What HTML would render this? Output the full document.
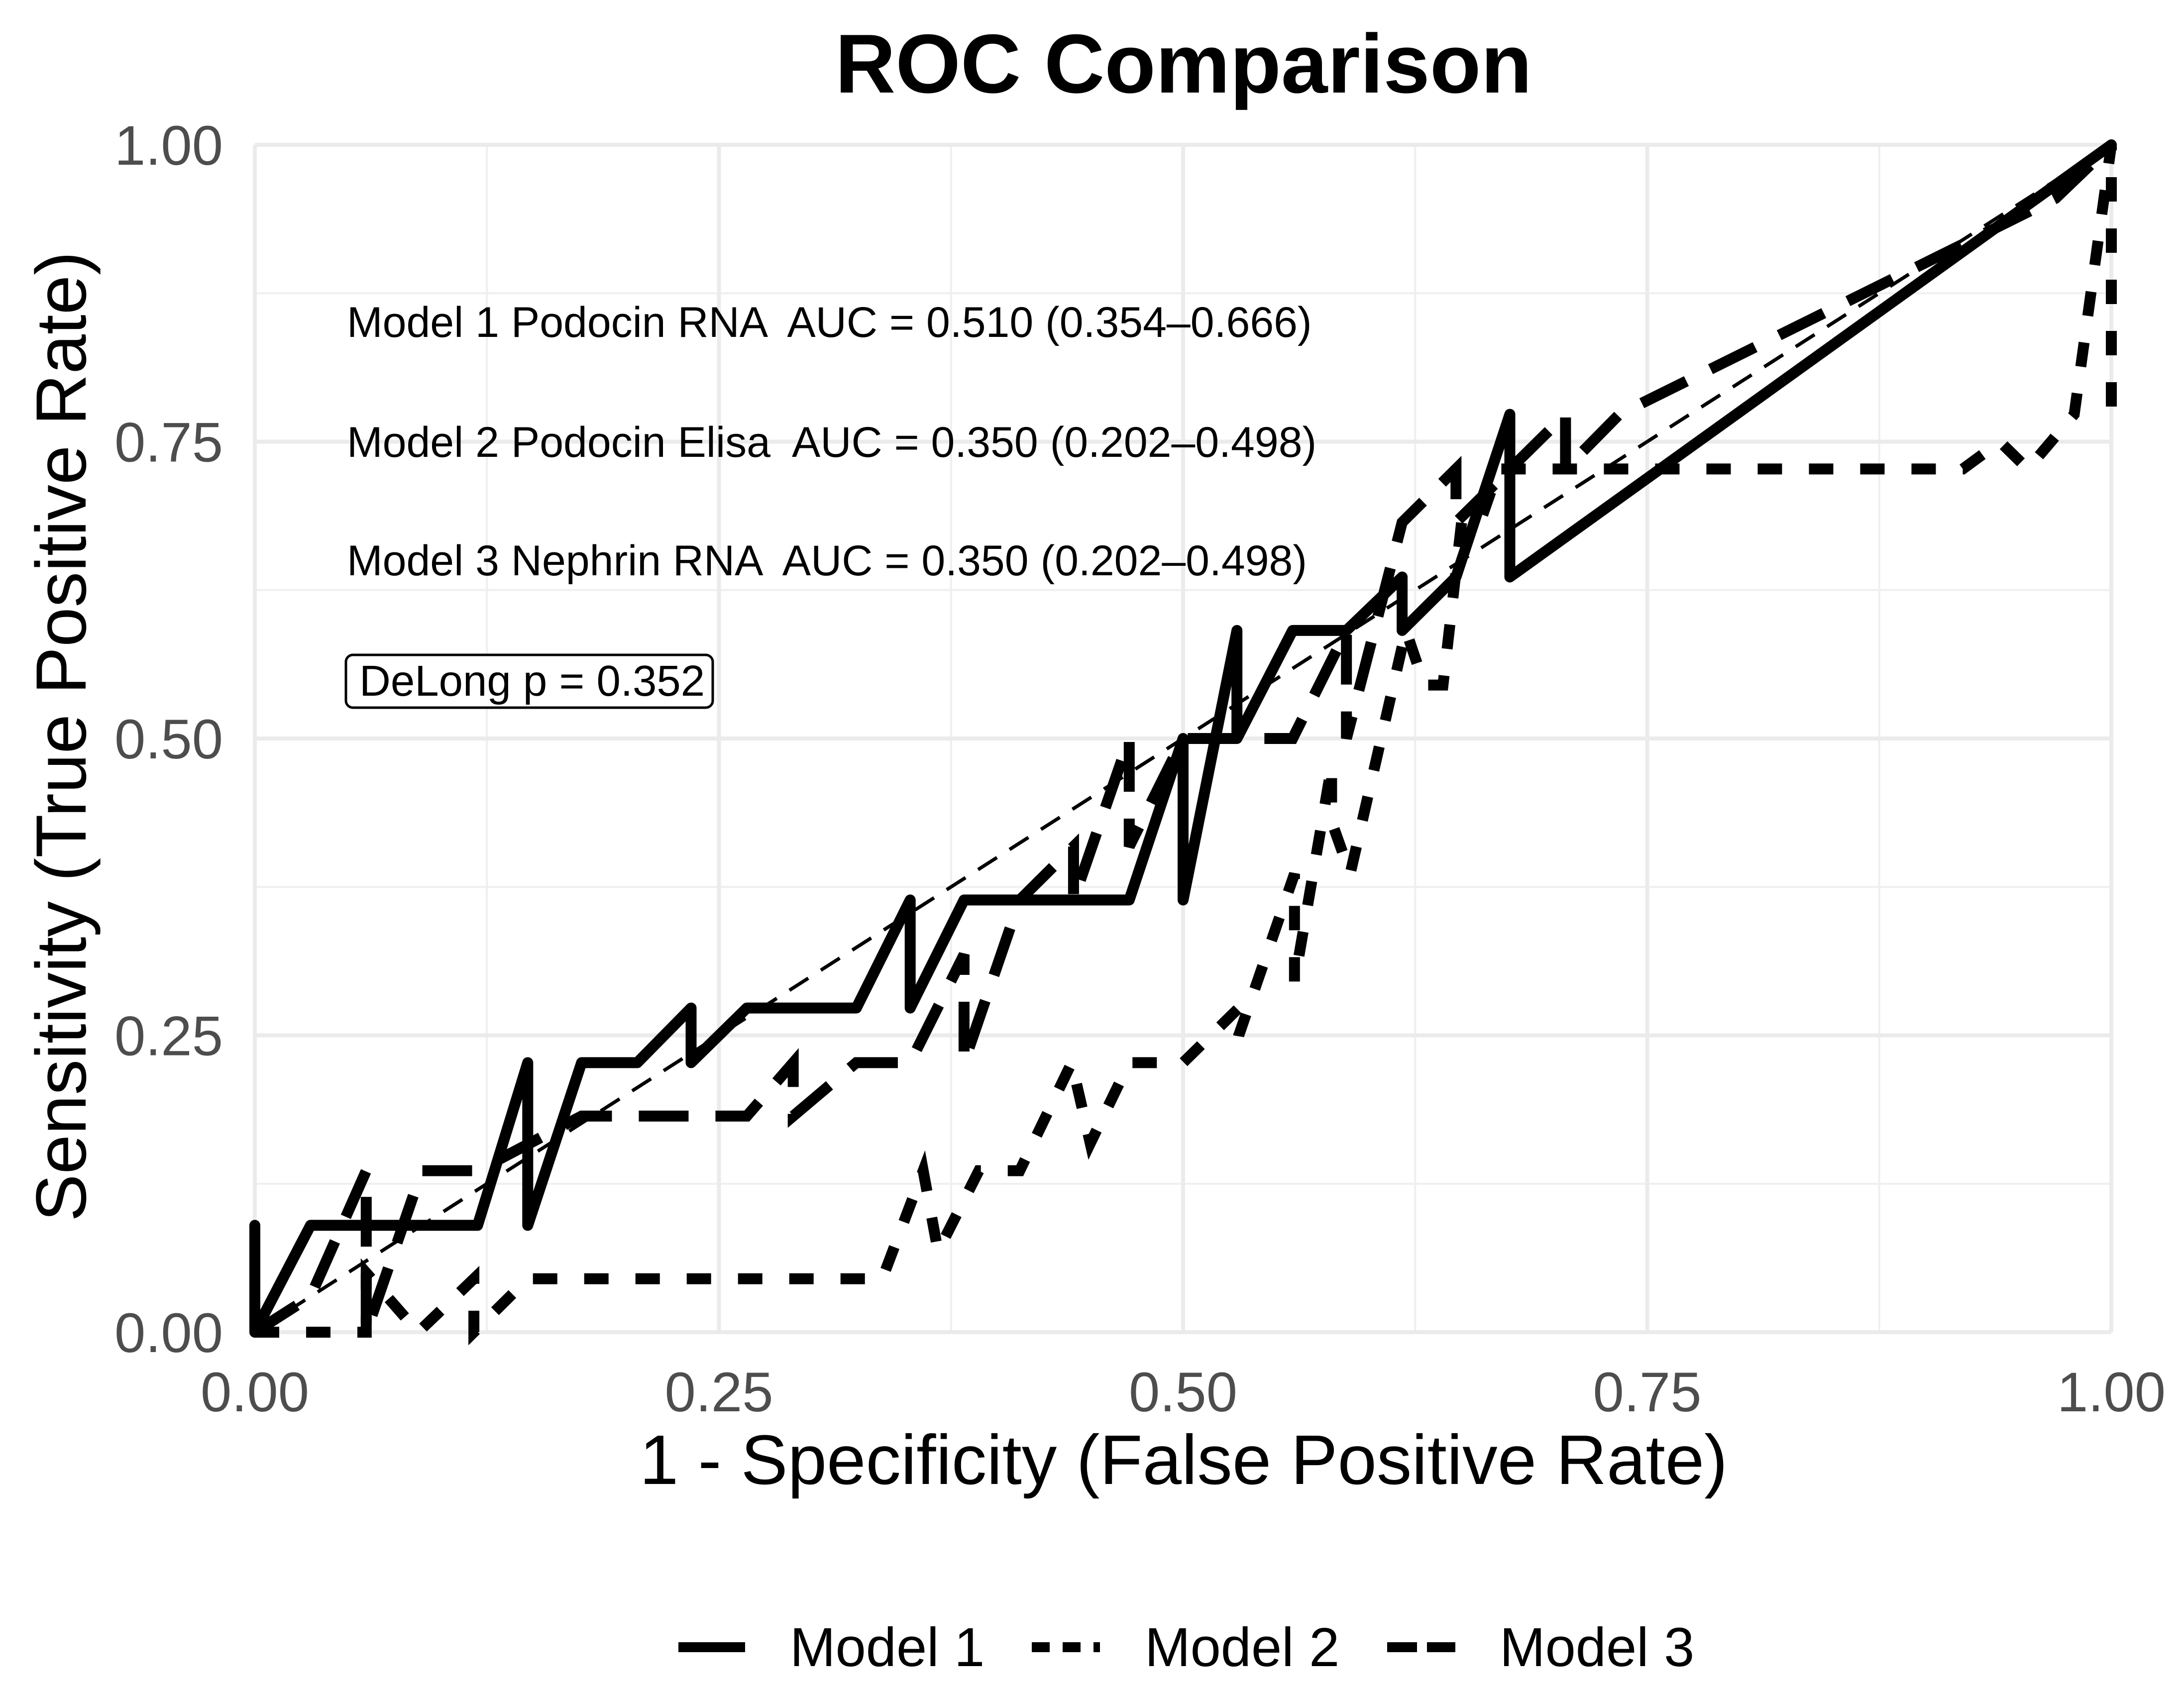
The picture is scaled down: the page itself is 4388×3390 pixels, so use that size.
<!DOCTYPE html>
<html><head><meta charset="utf-8"><style>
html,body{margin:0;padding:0;background:#fff;}
svg{display:block;font-family:"Liberation Sans",sans-serif;}
text{white-space:pre;}
</style></head><body>
<svg id="chart" width="4388" height="3390" viewBox="0 0 4388 3390" xmlns="http://www.w3.org/2000/svg" xml:space="preserve">
<rect width="4388" height="3390" fill="#fff"/>
<g id="grid"></g>
<g id="series"></g>
<g id="ticks"></g>
<text x="2378" y="186" font-size="168" font-weight="bold" text-anchor="middle">ROC Comparison</text>
<text x="2378" y="2982" font-size="141" text-anchor="middle">1 - Specificity (False Positive Rate)</text>
<text transform="translate(172,1480) rotate(-90)" font-size="143" text-anchor="middle">Sensitivity (True Positive Rate)</text>
<text x="697" y="677" font-size="86">Model 1 Podocin RNA  AUC = 0.510 (0.354–0.666)</text>
<text x="697" y="918" font-size="86">Model 2 Podocin Elisa  AUC = 0.350 (0.202–0.498)</text>
<text x="697" y="1156" font-size="86">Model 3 Nephrin RNA  AUC = 0.350 (0.202–0.498)</text>
<rect x="695" y="1316" width="737" height="106" rx="14" fill="#fff" stroke="#000" stroke-width="5"/>
<text x="722" y="1398" font-size="87">DeLong p = 0.352</text>
<g>
<line x1="1363" y1="3310" x2="1497" y2="3310" stroke="#000" stroke-width="20"/>
<text x="1587" y="3348" font-size="110">Model 1</text>
<line x1="2073" y1="3310" x2="2210" y2="3310" stroke="#000" stroke-width="20" stroke-dasharray="36,26"/>
<text x="2300" y="3348" font-size="110">Model 2</text>
<line x1="2787" y1="3310" x2="2924" y2="3310" stroke="#000" stroke-width="20" stroke-dasharray="60,20"/>
<text x="3013" y="3348" font-size="110">Model 3</text>
</g>
</svg>
<script>
const tickValues = [0, 0.25, 0.5, 0.75, 1];
const tickLabels = ["0.00", "0.25", "0.50", "0.75", "1.00"];
const minorTicks = [0.125, 0.375, 0.625, 0.875];
const model1Fpr = [0,0,0,0.03,0.12,0.147,0.147,0.176,0.206,0.235,0.235,0.265,0.324,0.353,0.353,0.382,0.471,0.5,0.5,0.529,0.529,0.559,0.588,0.618,0.618,0.647,0.676,0.676,1];
const model1Tpr = [0,0.09,0,0.09,0.09,0.227,0.09,0.227,0.227,0.273,0.227,0.273,0.273,0.364,0.273,0.364,0.364,0.5,0.364,0.591,0.5,0.591,0.591,0.636,0.591,0.636,0.773,0.636,1];
const model2Fpr = [0,0.04,0.06,0.06,0.088,0.118,0.118,0.147,0.338,0.36,0.368,0.39,0.412,0.44,0.45,0.471,0.5,0.53,0.53,0.56,0.56,0.58,0.58,0.59,0.62,0.63,0.64,0.65,0.66,0.67,0.92,0.94,0.955,0.98,1,1];
const model2Tpr = [0,0,0,0.05,0,0.045,0,0.045,0.045,0.136,0.068,0.136,0.136,0.227,0.159,0.227,0.227,0.273,0.25,0.386,0.295,0.477,0.43,0.386,0.591,0.545,0.545,0.682,0.682,0.727,0.727,0.75,0.727,0.773,1,0.773];
const model3Fpr = [0,0.03,0.06,0.06,0.09,0.12,0.176,0.265,0.29,0.29,0.324,0.353,0.382,0.382,0.412,0.441,0.441,0.471,0.471,0.5,0.559,0.588,0.588,0.618,0.647,0.647,0.706,0.706,0.735,0.97,1];
const model3Tpr = [0,0.03,0.136,0,0.136,0.136,0.182,0.182,0.227,0.182,0.227,0.227,0.318,0.227,0.364,0.409,0.364,0.5,0.409,0.5,0.5,0.591,0.5,0.682,0.727,0.682,0.773,0.727,0.773,0.955,1];
const refFpr = [0, 1];
const refTpr = [0, 1];

const X0=512, X1=4242, Y0=2677, Y1=291;
const sx = v => X0 + v*(X1-X0);
const sy = v => Y0 - v*(Y0-Y1);
const NS='http://www.w3.org/2000/svg';
const grid=document.getElementById('grid'), ser=document.getElementById('series'), ticks=document.getElementById('ticks');
function mk(tag, parent){const e=document.createElementNS(NS,tag);parent.appendChild(e);return e;}
minorTicks.forEach(v=>{
  let a=mk('line',grid);
  
  
  a.setAttribute('x1',sx(v));a.setAttribute('x2',sx(v));a.setAttribute('y1',Y1);a.setAttribute('y2',Y0);
  a.setAttribute('stroke','#efefef');a.setAttribute('stroke-width','4');
  let b=mk('line',grid);
  
  
  b.setAttribute('y1',sy(v));b.setAttribute('y2',sy(v));b.setAttribute('x1',X0);b.setAttribute('x2',X1);
  b.setAttribute('stroke','#efefef');b.setAttribute('stroke-width','4');
});
tickValues.forEach((v,i)=>{
  let a=mk('line',grid);
  
  
  a.setAttribute('x1',sx(v));a.setAttribute('x2',sx(v));a.setAttribute('y1',Y1);a.setAttribute('y2',Y0);
  a.setAttribute('stroke','#ebebeb');a.setAttribute('stroke-width','8');
  let b=mk('line',grid);
  
  
  b.setAttribute('y1',sy(v));b.setAttribute('y2',sy(v));b.setAttribute('x1',X0);b.setAttribute('x2',X1);
  b.setAttribute('stroke','#ebebeb');b.setAttribute('stroke-width','8');
  let t=mk('text',ticks);
  
  
  t.setAttribute('x',sx(v));t.setAttribute('y',2836);t.setAttribute('font-size','112');
  t.setAttribute('text-anchor','middle');t.setAttribute('fill','#4d4d4d');t.textContent=tickLabels[i];
  let u=mk('text',ticks);
  
  
  u.setAttribute('x',448);u.setAttribute('y',sy(v)+40);u.setAttribute('font-size','112');
  u.setAttribute('text-anchor','end');u.setAttribute('fill','#4d4d4d');u.textContent=tickLabels[i];
});
function path(xs, ys){return xs.map((x,i)=>(i?'L':'M')+sx(x).toFixed(1)+','+sy(ys[i]).toFixed(1)).join(' ');}
let r=mk('path',ser);


r.setAttribute('d',path(refFpr,refTpr));r.setAttribute('fill','none');r.setAttribute('stroke','#000');
r.setAttribute('stroke-width','7');r.setAttribute('stroke-dasharray','45,30');
let p3=mk('path',ser);


p3.setAttribute('d',path(model3Fpr,model3Tpr));p3.setAttribute('fill','none');p3.setAttribute('stroke','#000');
p3.setAttribute('stroke-width','22');p3.setAttribute('stroke-dasharray','100,54');
let p2=mk('path',ser);


p2.setAttribute('d',path(model2Fpr,model2Tpr));p2.setAttribute('fill','none');p2.setAttribute('stroke','#000');
p2.setAttribute('stroke-width','22');p2.setAttribute('stroke-dasharray','49,54');
let p1=mk('path',ser);


p1.setAttribute('d',path(model1Fpr,model1Tpr));p1.setAttribute('fill','none');p1.setAttribute('stroke','#000');
p1.setAttribute('stroke-width','22');p1.setAttribute('stroke-linejoin','round');p1.setAttribute('stroke-linecap','round');
</script>
</body></html>
